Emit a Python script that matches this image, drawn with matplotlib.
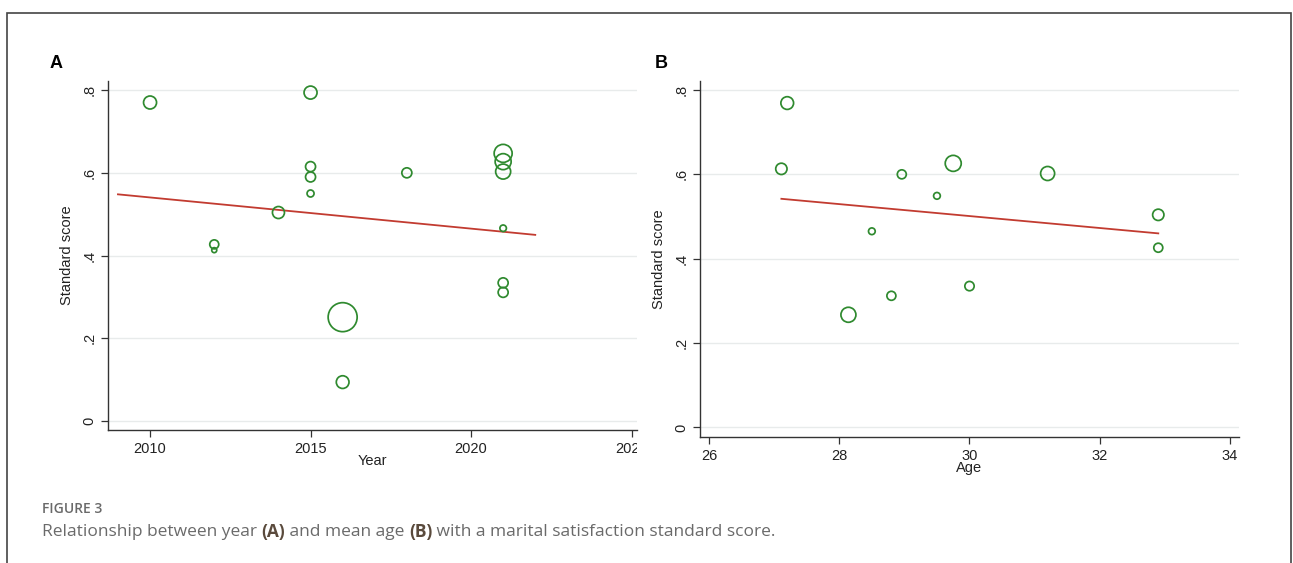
import matplotlib
matplotlib.use('Agg')
import matplotlib.pyplot as plt
from matplotlib.patches import Rectangle
from matplotlib.transforms import Bbox

# Panel A: publication year vs standard score (d = marker diameter, px)
year = [2010, 2015, 2015, 2015, 2015, 2012, 2012, 2014, 2018,
        2021, 2021, 2021, 2021, 2021, 2021, 2016, 2016]
score_a = [0.770, 0.794, 0.615, 0.590, 0.550, 0.427, 0.413, 0.504, 0.600,
           0.647, 0.627, 0.603, 0.466, 0.334, 0.311, 0.251, 0.094]
size_a = [13, 13, 10, 10, 7, 9, 5, 12, 10,
          18, 16, 15, 6.5, 10, 10, 29, 12.7]
fit_year = [2009, 2022]
fit_a = [0.548, 0.450]

# Panel B: mean age vs standard score
age = [27.20, 27.11, 28.96, 29.75, 29.50, 31.20, 28.50, 32.90, 32.90, 30.00, 28.80, 28.14]
score_b = [0.769, 0.613, 0.600, 0.626, 0.549, 0.602, 0.465, 0.504, 0.426, 0.335, 0.312, 0.267]
size_b = [12.7, 11.3, 9, 16, 6.7, 14, 6.7, 11.3, 9, 9.3, 9, 15]
fit_age = [27.11, 32.9]
fit_b = [0.542, 0.460]

yticks = [0, 0.2, 0.4, 0.6, 0.8]
ytick_labels = ['0', '.2', '.4', '.6', '.8']

green = '#2f8a2f'
red = '#c23b30'

plt.rcParams['font.family'] = ['Liberation Sans', 'DejaVu Sans']

W, H = 1293, 563
fig = plt.figure(figsize=(W / 100, H / 100), dpi=100)


def px_axes(l, t, r, b):
    return fig.add_axes([l / W, 1 - b / H, (r - l) / W, (b - t) / H])


def style(ax, xlabel):
    for s in ['top', 'right']:
        ax.spines[s].set_visible(False)
    for s in ['left', 'bottom']:
        ax.spines[s].set_color('#333333')
        ax.spines[s].set_linewidth(1.0)
    ax.set_yticks(yticks)
    ax.set_yticklabels(ytick_labels, rotation=90, va='center')
    ax.tick_params(direction='out', length=5, width=0.9, color='#333333',
                   labelsize=10.5, labelcolor='#222222')
    ax.grid(axis='y', color='#e8ebeb', lw=1.0)
    ax.set_axisbelow(True)
    ax.set_ylabel('Standard score', fontsize=10.5, color='#222222', labelpad=6)
    ax.set_xlabel(xlabel, fontsize=10.5, color='#222222', labelpad=-1)


def to_s(d):
    return [(0.72 * v) ** 2 for v in d]


# Panel A
axA = px_axes(108, 81, 637, 430)
axA.scatter(year, score_a, s=to_s(size_a), facecolors='none', edgecolors=green, linewidths=1.25, zorder=3)
axA.plot(fit_year, fit_a, color=red, lw=1.3, zorder=2)
axA.set_xlim(2008.69, 2025.17)
axA.set_ylim(-0.0218, 0.822)
axA.set_xticks([2010, 2015, 2020, 2025])
style(axA, 'Year')

# Panel B
axB = px_axes(700, 81, 1239, 437)
axB.scatter(age, score_b, s=to_s(size_b), facecolors='none', edgecolors=green, linewidths=1.25, zorder=3)
axB.plot(fit_age, fit_b, color=red, lw=1.3, zorder=2)
axB.set_xlim(25.86, 34.14)
axB.set_ylim(-0.0228, 0.8213)
axB.set_xticks([26, 28, 30, 32, 34])
style(axB, 'Age')

# panel A image is cropped on the right, cutting the last tick label
clip = Bbox.from_extents(0, 0, 637, H)
for lab in axA.get_xticklabels():
    lab.set_clip_box(clip)
    lab.set_clip_on(True)

fig.text(50 / W, 1 - 63 / H, 'A', fontsize=13, fontweight='bold', va='center', ha='left')
fig.text(655 / W, 1 - 63 / H, 'B', fontsize=13, fontweight='bold', va='center', ha='left')

# outer frame
fig.patches.append(Rectangle((7 / W, -0.05), (1291 - 7) / W, 1 - 13 / H + 0.05,
                             transform=fig.transFigure, fill=False, ec='#444444', lw=1.2))

# caption
cap_font = ['Open Sans', 'DejaVu Sans']
fig.text(42 / W, 1 - 509 / H, 'FIGURE 3', fontsize=10, color='#6a6a6a', family=cap_font,
         fontweight='semibold', va='center')
pieces = [('Relationship between year ', 'normal'), ('(A)', 'bold'),
          (' and mean age ', 'normal'), ('(B)', 'bold'),
          (' with a marital satisfaction standard score.', 'normal')]
fig.canvas.draw()
renderer = fig.canvas.get_renderer()
x = 42
for txt, wt in pieces:
    t = fig.text(x / W, 1 - 532 / H, txt, fontsize=12.5, family=cap_font, fontweight=wt,
                 color='#5a4a3c' if wt == 'bold' else '#6a6a6a', va='center')
    x += t.get_window_extent(renderer).width

fig.savefig('out.png', dpi=100)
